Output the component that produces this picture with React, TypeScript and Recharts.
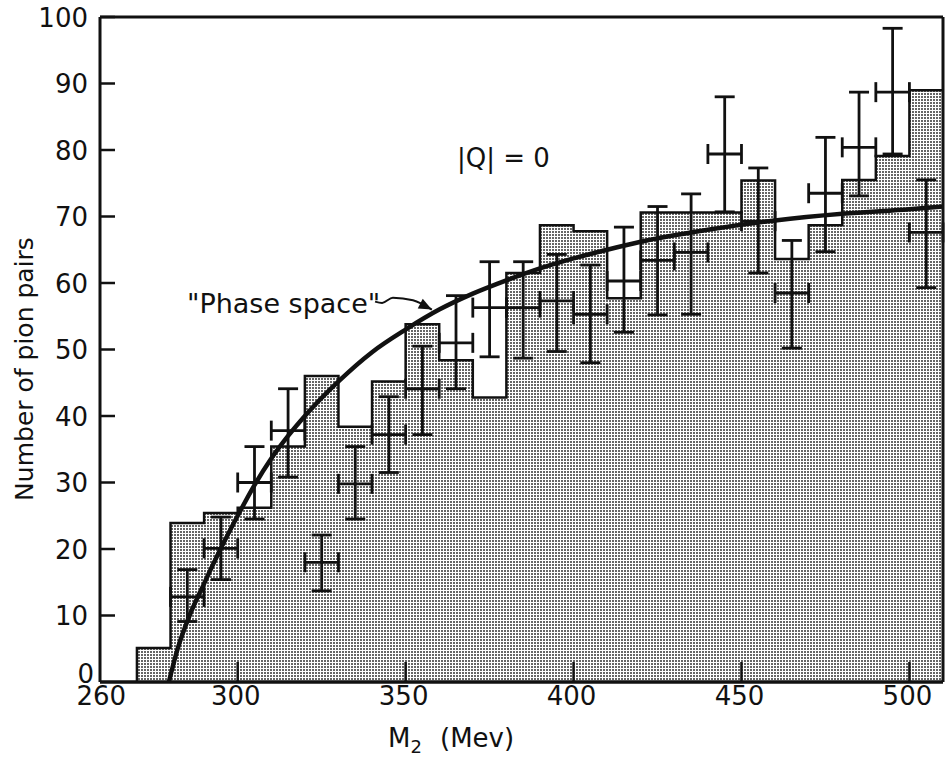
// Dipion mass spectrum, |Q| = 0, against a phase-space curve

import { ComposedChart, Area, Line, Scatter, ErrorBar, XAxis, YAxis } from "recharts";

// shaded histogram: 10 MeV bins, left edges and counts
const BIN_START = [270, 280, 290, 300, 310, 320, 330, 340, 350, 360, 370, 380, 390, 400, 410, 420, 430, 440, 450, 460, 470, 480, 490, 500];
const BIN_COUNT = [5.1, 23.9, 25.4, 26.2, 35.4, 46, 38.4, 45.2, 53.8, 48.4, 42.8, 61.5, 68.7, 67.8, 57.7, 70.6, 70.6, 70.6, 75.4, 63.6, 68.7, 75.5, 79.1, 89];
const BIN_END = 510;

// crosses: bin centre, value, lower and upper end of the error bar
const PT_M = [285, 295, 305, 315, 325, 335, 345, 355, 365, 375, 385, 395, 405, 415, 425, 435, 445, 455, 465, 475, 485, 495, 505];
const PT_N = [12.8, 20.1, 30.0, 37.8, 18.0, 29.8, 37.2, 44.1, 51.0, 56.3, 56.3, 57.3, 55.3, 60.3, 63.4, 64.6, 79.4, 69.3, 58.5, 73.5, 80.4, 88.7, 67.6];
const PT_LO = [9.1, 15.4, 24.5, 30.8, 13.7, 24.5, 31.5, 37.2, 44.1, 48.9, 48.7, 49.7, 48.0, 52.6, 55.2, 55.3, 70.7, 61.5, 50.2, 64.7, 73.1, 79.4, 59.3];
const PT_HI = [16.9, 24.8, 35.4, 44.1, 22.1, 35.4, 42.9, 50.5, 58.1, 63.2, 63.2, 64.3, 62.7, 68.4, 71.5, 73.4, 88.0, 77.3, 66.4, 81.9, 88.7, 98.3, 75.5];
const PT_HALF = 5;

// "Phase space" curve
const CURVE_M = [279.5, 282, 286, 290, 295, 300, 305, 310, 315, 320, 330, 340, 350, 360, 370, 380, 390, 400, 410, 420, 440, 460, 480, 500, 510];
const CURVE_N = [0, 4.8, 10.4, 14.8, 20.1, 25.0, 29.6, 33.6, 37.0, 40.0, 45.2, 49.6, 53.0, 56.0, 58.4, 60.4, 62.2, 63.7, 65.0, 66.2, 68.0, 69.4, 70.4, 71.1, 71.5];

// little arrow from the label to the curve
const ARROW_M = [340.9, 343, 346.2, 352.2, 357.8];
const ARROW_N = [57.2, 57.0, 57.8, 57.4, 56.0];

const X_TICKS = [260, 300, 350, 400, 450, 500];
const Y_TICKS = [0, 10, 20, 30, 40, 50, 60, 70, 80, 90, 100];
const INK = "#111";
const FONT = "DejaVu Sans";

const histo = [
  { x: BIN_START[0], y: 0 },
  ...BIN_START.map((x, i) => ({ x, y: BIN_COUNT[i] })),
  { x: BIN_END, y: BIN_COUNT[BIN_COUNT.length - 1] },
];
const points = PT_M.map((x, i) => ({
  x,
  y: PT_N[i],
  ey: [PT_N[i] - PT_LO[i], PT_HI[i] - PT_N[i]],
  ex: PT_HALF,
}));
const curve = CURVE_M.map((x, i) => ({ x, y: CURVE_N[i] }));
const arrow = ARROW_M.map((x, i) => ({ x, y: ARROW_N[i] }));

const BottomTick = (p: any) => (
  <g>
    {p.payload.value !== 260 && (
      <line x1={p.x} y1={p.y} x2={p.x} y2={p.y - 20} stroke={INK} strokeWidth={2.5} />
    )}
    <text x={p.x - 2} y={p.y + 23} textAnchor="middle" fontSize={26} fontFamily={FONT} fill={INK}>
      {p.payload.value}
    </text>
  </g>
);
const TopTick = (p: any) =>
  p.payload.value === 260 ? <g /> : <line x1={p.x} y1={p.y} x2={p.x} y2={p.y + 16} stroke={INK} strokeWidth={2.5} />;
const LeftTick = (p: any) => {
  const zero = p.payload.value === 0;
  return (
    <g>
      {!zero && <line x1={p.x} y1={p.y} x2={p.x + 15} y2={p.y} stroke={INK} strokeWidth={2.5} />}
      <text
        x={p.x - (zero ? 6 : 12)}
        y={p.y + (zero ? 1 : 9.5)}
        textAnchor="end"
        fontSize={26}
        fontFamily={FONT}
        fill={INK}
      >
        {p.payload.value}
      </text>
    </g>
  );
};
const RightTick = (p: any) => <line x1={p.x} y1={p.y} x2={p.x - 14} y2={p.y} stroke={INK} strokeWidth={2.5} />;

const ArrowHead = (p: any) =>
  p.index === arrow.length - 1 ? (
    <path
      key="head"
      d={`M${p.cx},${p.cy} L${p.cx - 13},${p.cy - 5.5} L${p.cx - 13},${p.cy + 5.5} Z`}
      transform={`rotate(27 ${p.cx} ${p.cy})`}
      fill={INK}
    />
  ) : (
    <g key={p.index} />
  );

export default function App() {
  return (
    <div style={{ position: "absolute", left: 0, top: 0, width: 948, height: 759, background: "#fff" }}>
      <svg width={0} height={0} style={{ position: "absolute" }}>
        <defs>
          <pattern id="halftone" width={3} height={3} patternUnits="userSpaceOnUse">
            <rect width={3} height={3} fill="#fff" />
            <rect width={2} height={2} fill="#666" />
          </pattern>
        </defs>
      </svg>
      <ComposedChart width={948} height={759} margin={{ top: 16, right: 4, bottom: 76, left: 99 }}>
        <XAxis
          dataKey="x"
          type="number"
          domain={[259, 510]}
          ticks={X_TICKS}
          interval={0}
          height={1}
          tickSize={0}
          tickMargin={0}
          tick={BottomTick}
          axisLine={{ stroke: INK, strokeWidth: 3.5 }}
        />
        <XAxis
          xAxisId="top"
          orientation="top"
          type="number"
          domain={[259, 510]}
          ticks={X_TICKS}
          interval={0}
          height={1}
          tickSize={0}
          tickMargin={0}
          tick={TopTick}
          axisLine={{ stroke: INK, strokeWidth: 3 }}
        />
        <YAxis
          dataKey="y"
          type="number"
          domain={[0, 100]}
          ticks={Y_TICKS}
          interval={0}
          width={1}
          tickSize={0}
          tickMargin={0}
          tick={LeftTick}
          axisLine={{ stroke: INK, strokeWidth: 3 }}
        />
        <YAxis
          yAxisId="right"
          orientation="right"
          type="number"
          domain={[0, 100]}
          ticks={Y_TICKS.slice(1, -1)}
          interval={0}
          width={1}
          tickSize={0}
          tickMargin={0}
          tick={RightTick}
          axisLine={{ stroke: INK, strokeWidth: 3 }}
        />
        <Area
          data={histo}
          dataKey="y"
          type="stepAfter"
          stroke={INK}
          strokeWidth={2.5}
          fill="url(#halftone)"
          fillOpacity={1}
          dot={false}
          activeDot={false}
          isAnimationActive={false}
        />
        <Scatter data={points} shape={() => <g />} isAnimationActive={false}>
          <ErrorBar dataKey="ey" direction="y" width={10} stroke={INK} strokeWidth={2.8} />
          <ErrorBar dataKey="ex" direction="x" width={10} stroke={INK} strokeWidth={2.8} />
        </Scatter>
        <Line
          data={curve}
          dataKey="y"
          type="monotone"
          stroke={INK}
          strokeWidth={4.5}
          dot={false}
          activeDot={false}
          isAnimationActive={false}
        />
        <Line
          data={arrow}
          dataKey="y"
          type="monotone"
          stroke={INK}
          strokeWidth={2}
          dot={ArrowHead}
          activeDot={false}
          isAnimationActive={false}
        />
      </ComposedChart>
      <svg
        width={948}
        height={759}
        style={{ position: "absolute", left: 0, top: 0, pointerEvents: "none" }}
        fontFamily={FONT}
        fill={INK}
      >
        <text transform="translate(33,369) rotate(-90)" textAnchor="middle" fontSize={25}>
          Number of pion pairs
        </text>
        <text x={388} y={747} fontSize={26}>
          M
          <tspan dy={6} fontSize={18}>
            2
          </tspan>
          <tspan x={440} dy={-6}>
            (Mev)
          </tspan>
        </text>
        <text x={457} y={167} fontSize={26}>
          |Q| = 0
        </text>
        <text x={187} y={313} fontSize={27}>
          "Phase space"
        </text>
      </svg>
    </div>
  );
}
